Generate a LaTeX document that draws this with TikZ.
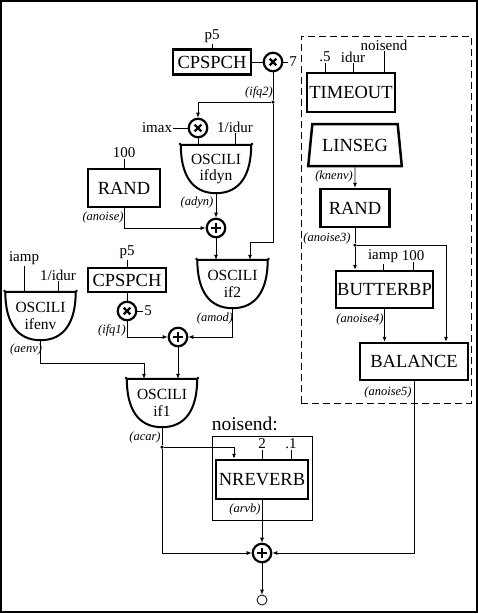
\documentclass[tikz,border=0pt]{standalone}
\usepackage{fontspec}
\setmainfont{Liberation Serif}
\usetikzlibrary{arrows.meta,shapes.geometric}

\newcommand{\opfont}{\fontsize{18.5}{20}\selectfont}
\newcommand{\hdrfont}{\fontsize{19.5}{21}\selectfont}
\newcommand{\argfont}{\fontsize{15}{16}\selectfont}
\newcommand{\varfont}{\fontsize{12.5}{13}\selectfont\itshape}
\newcommand{\oscfont}{\fontsize{15.5}{16.5}\selectfont}

% bowl outline of an oscillator node
\newcommand{\oscbowl}[1]{%
  \draw[line width=2pt, line join=round]
    ([xshift=-1.5pt,yshift=1.5pt]#1.north west) -- (#1.north west)
    -- (#1.north east) -- ([xshift=1.5pt,yshift=1.5pt]#1.north east);
  \draw[line width=2pt]
    (#1.north east) .. controls +(0pt,-30pt) and +(24pt,0pt) .. (#1.south)
    .. controls +(-24pt,0pt) and +(0pt,-30pt) .. (#1.north west);
}

\tikzset{
  opbox/.style={
    rectangle, draw=black, line width=2.5pt, inner sep=0.5pt, font=\opfont
  },
  oscnode/.style={
    rectangle, inner sep=0pt, minimum width=70pt, minimum height=48pt,
    align=center, font=\oscfont
  },
  mulop/.style={
    circle, draw=black, line width=2.2pt, fill=white, inner sep=0pt, minimum size=18.5pt,
    path picture={
      \draw[line width=2.2pt]
      ([shift={(-3.3pt,-3.3pt)}]path picture bounding box.center) --
      ([shift={(3.3pt,3.3pt)}]path picture bounding box.center)
      ([shift={(-3.3pt,3.3pt)}]path picture bounding box.center) --
      ([shift={(3.3pt,-3.3pt)}]path picture bounding box.center);
    }
  },
  addop/.style={
    circle, draw=black, line width=2.2pt, fill=white, inner sep=0pt, minimum size=18.5pt,
    path picture={
      \draw[line width=2.2pt]
      ([xshift=-4.8pt]path picture bounding box.center) --
      ([xshift=4.8pt]path picture bounding box.center)
      ([yshift=-4.8pt]path picture bounding box.center) --
      ([yshift=4.8pt]path picture bounding box.center);
    }
  },
  argtext/.style={inner sep=1pt, font=\argfont},
  vartext/.style={inner sep=0pt, font=\varfont},
  junction/.style={circle, fill=black, inner sep=0pt, minimum size=3.5pt},
  wire/.style={line width=0.8pt},
  flow/.style={line width=0.8pt, -{Latex[length=5pt,width=4pt]}}
}

\begin{document}
\begin{tikzpicture}[x=1pt, y=-1pt]

\useasboundingbox (0,0) rectangle (478,614);
\draw[line width=1.2pt] (1,1) rectangle (477,612);

% ---------------------------
% noise envelope group
% ---------------------------
\node[draw, dashed, line width=0.8pt, dash pattern=on 7pt off 4pt, inner sep=0pt,
  minimum width=170pt, minimum height=367pt] (grp) at (386,219.5) {};

\node[argtext] (half) at (325,57) {.5};
\node[argtext] (idurT) at (353,57) {idur};
\node[argtext] (nsend) at (384,45) {noisend};
\node[opbox, minimum width=88pt, minimum height=39pt] (tout) at (351,92.5) {TIMEOUT};
\draw[wire] (half) -- (half |- tout.north);
\draw[wire] (idurT) -- (idurT |- tout.north);
\draw[wire] (nsend) -- (nsend |- tout.north);

\node[trapezium, draw=black, line width=2.5pt, font=\opfont, inner sep=0.5pt,
  trapezium left angle=76.5, trapezium right angle=76.5, trapezium stretches=true,
  minimum width=94pt, minimum height=42pt] (lins) at (355,145) {LINSEG};
\node[vartext] (lbKenv) at (334,176) {(knenv)};

\node[opbox, minimum width=69pt, minimum height=38pt] (randB) at (355,208) {RAND};
\draw[flow] (lins) -- (randB);
\node[vartext] (lbNoiseC) at (327,238) {(anoise3)};
\node[junction] (jC) at (355,245) {};
\draw[wire] (randB) -- (jC);

\node[argtext] (ampB) at (383,256) {iamp};
\node[argtext] (hunB) at (413,256) {100};
\node[opbox, minimum width=97pt, minimum height=37pt] (bp) at (384.5,289.5) {BUTTERBP};
\draw[wire] (ampB) -- (ampB |- bp.north);
\draw[wire] (hunB) -- (hunB |- bp.north);
\draw[flow] (jC) -- (jC |- bp.north);
\node[vartext] (lbNoiseD) at (360,319) {(anoise4)};

\node[opbox, minimum width=108pt, minimum height=37pt] (bal) at (414,361.5) {BALANCE};
\draw[flow] (bp) -- (bp |- bal.north);
\draw[flow] (jC) -| ([xshift=32pt]bal.north);
\node[vartext] (lbNoiseE) at (388,392) {(anoise5)};

% ---------------------------
% modulator frequency
% ---------------------------
\node[argtext] (p5A) at (212,36) {p5};
\node[opbox, minimum width=78pt, minimum height=25pt] (cpsA) at (212,62) {CPSPCH};
\node[mulop] (mulA) at (273,62) {};
\node[argtext] (sevA) at (293,62) {7};
\draw[wire] (p5A) -- (cpsA);
\draw[wire] (cpsA) -- (mulA);
\draw[wire] (mulA) -- (sevA);
\node[junction] (jA) at (273,102) {};
\node[vartext] (lbIfqB) at (259,92) {(ifq2)};
\draw[wire] (mulA) -- (jA);

\node[mulop] (mulB) at (198,128) {};
\node[argtext] (imax) at (157,128) {imax};
\node[argtext] (idurD) at (235,127) {1/idur};
\draw[flow] (jA) -| (mulB);
\draw[wire] (imax) -- (mulB);

\node[oscnode] (dyn) at (216,169) {OSCILI\\ifdyn};
\oscbowl{dyn}
\draw[wire] (mulB) -- (mulB |- dyn.north);
\draw[wire] (idurD) -- (idurD |- dyn.north);
\node[vartext] (lbAdyn) at (197,203) {(adyn)};

\node[argtext] (hunA) at (124,153) {100};
\node[opbox, minimum width=72pt, minimum height=38pt] (randA) at (124,188) {RAND};
\draw[wire] (hunA) -- (randA);
\node[vartext] (lbNoise) at (103,217) {(anoise)};

\node[addop] (plusA) at (216,228) {};
\draw[flow] (dyn.south) -- (plusA);
\draw[flow] (randA) |- (plusA);

\node[oscnode] (mod) at (232.5,284) {OSCILI\\if2};
\oscbowl{mod}
\draw[flow] (plusA) -- (plusA |- mod.north);
\draw[flow] (jA) |- ([xshift=17.5pt,yshift=17pt]mod.north) -- ([xshift=17.5pt]mod.north);
\node[vartext] (lbAmod) at (215,318) {(amod)};

% ---------------------------
% carrier
% ---------------------------
\node[argtext] (p5B) at (127,252) {p5};
\node[opbox, minimum width=78pt, minimum height=24pt] (cpsB) at (127,280) {CPSPCH};
\node[mulop] (mulC) at (127,311) {};
\node[argtext] (fiveC) at (148,311) {5};
\draw[wire] (p5B) -- (cpsB);
\draw[wire] (cpsB) -- (mulC);
\draw[wire] (mulC) -- (fiveC);
\node[vartext] (lbIfqA) at (112,330) {(ifq1)};

\node[addop] (plusB) at (178,337) {};
\draw[flow] (mulC) |- (plusB);
\draw[flow] (mod.south) |- (plusB);

\node[argtext] (amp) at (24,258) {iamp};
\node[argtext] (idurE) at (58,275) {1/idur};
\node[oscnode] (env) at (40.5,316) {OSCILI\\ifenv};
\oscbowl{env}
\draw[wire] (amp) -- (amp |- env.north);
\draw[wire] (idurE) -- (idurE |- env.north);
\node[vartext] (lbAenv) at (26,349) {(aenv)};

\node[oscnode] (car) at (162,403) {OSCILI\\if1};
\oscbowl{car}
\draw[flow] (plusB) -- (plusB |- car.north);
\draw[flow] (env.south) |- ([xshift=-18pt,yshift=15pt]car.north) -- ([xshift=-18pt]car.north);
\node[vartext] (lbAcar) at (145,437) {(acar)};
\node[junction] (jB) at (162,447) {};
\draw[wire] (car.south) -- (jB);

% ---------------------------
% reverb and output
% ---------------------------
\node[draw, line width=0.8pt, inner sep=0pt, minimum width=100pt, minimum height=84pt] (nsbox) at (262,478) {};
\node[font=\hdrfont, inner sep=0pt, anchor=base west] (nshdr) at ([yshift=5pt]nsbox.north west) {noisend:};
\node[argtext] (two) at (262,444) {2};
\node[argtext] (tenth) at (291,444) {.1};
\node[opbox, minimum width=92pt, minimum height=39pt] (rvb) at (262,479.5) {NREVERB};
\draw[wire] (two) -- (two |- rvb.north);
\draw[wire] (tenth) -- (tenth |- rvb.north);
\draw[flow] (jB) -| ([xshift=-28pt]rvb.north);
\node[vartext] (lbArvb) at (245,509) {(arvb)};

\node[addop] (plusC) at (262,553) {};
\node[circle, draw=black, line width=0.8pt, inner sep=0pt, minimum size=10pt] (outC) at (262,600) {};
\draw[flow] (rvb) -- (plusC);
\draw[flow] (jB) |- (plusC);
\draw[flow] (bal) |- (plusC);
\draw[flow] (plusC) -- (outC);

\end{tikzpicture}
\end{document}
